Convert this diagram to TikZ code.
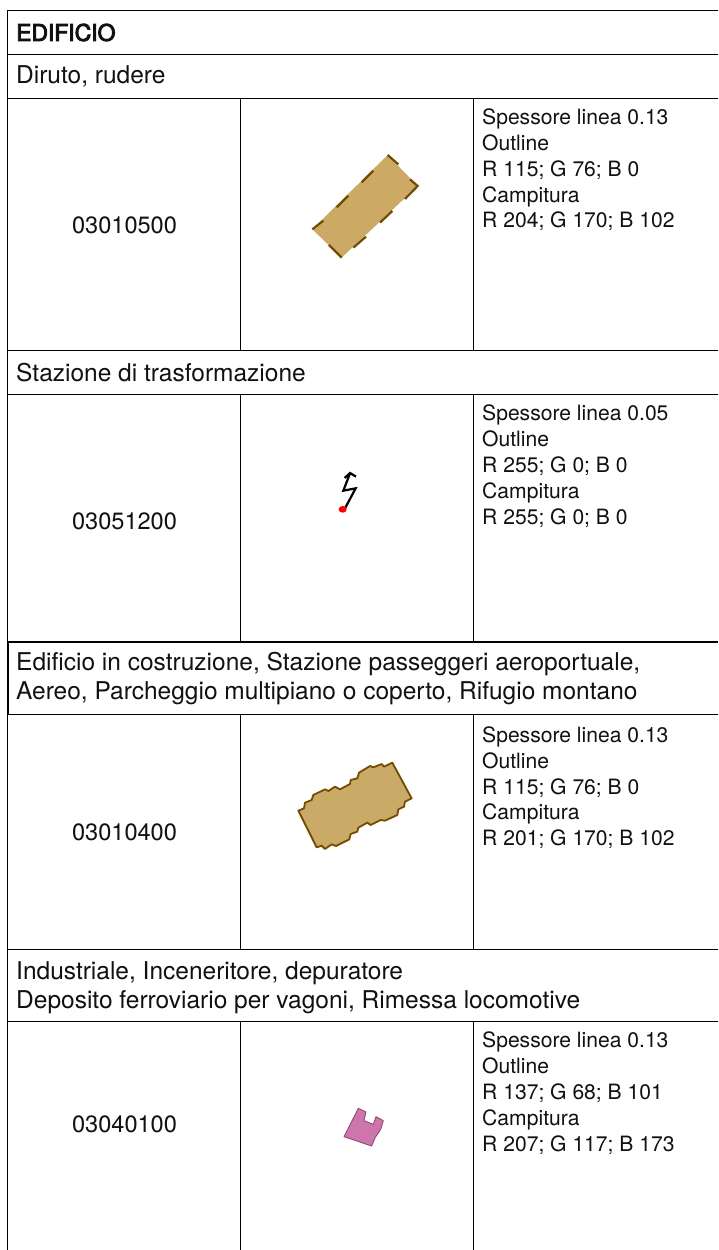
\documentclass[tikz,border=0pt]{standalone}
\usepackage{fontspec}
\setmainfont{TeX Gyre Heros}
\newfontfamily\fakebold[FakeBold=4]{TeX Gyre Heros}
\definecolor{ink}{HTML}{111111}
\definecolor{brownA}{RGB}{115,76,0}
\definecolor{fillA}{RGB}{204,170,102}
\definecolor{fillB}{RGB}{201,170,102}
\definecolor{lineC}{RGB}{137,68,101}
\definecolor{fillC}{RGB}{207,117,173}
\tikzset{
 rule/.style={draw=black,line width=1.1pt},
 thick rule/.style={draw=black,line width=1.9pt},
 head/.style={anchor=west,inner sep=0pt,font=\fontsize{24.5}{29}\selectfont,text=ink,align=left},
 code/.style={anchor=center,inner sep=0pt,font=\fontsize{23.6}{28}\selectfont,text=ink},
 spec/.style={anchor=north west,inner sep=0pt,font=\fontsize{21.1}{25.8}\selectfont,text=ink,align=left},
}
\begin{document}
\begin{tikzpicture}[x=1pt,y=-1pt]
\useasboundingbox (0,0) rectangle (718,1250);
\fill[white] (0,0) rectangle (718,1250);
% table rules
\draw[rule] (7.5,1250) -- (7.5,10.5) -- (718,10.5);
\draw[rule] (7.5,54.5) -- (718,54.5);
\draw[rule] (7.5,98.5) -- (718,98.5);
\draw[rule] (7.5,350.5) -- (718,350.5);
\draw[rule] (7.5,394.5) -- (718,394.5);
\draw[thick rule] (7.5,642) -- (718,642);
\draw[thick rule] (7.5,714.5) -- (718,714.5);
\draw[thick rule] (8,642) -- (8,714.5);
\draw[rule] (7.5,949.5) -- (718,949.5);
\draw[rule] (7.5,1021.3) -- (718,1021.3);
\foreach \a/\b in {98.5/350.5,394.5/642,714.5/949.5,1021.3/1250}{
 \draw[rule] (240.5,\a) -- (240.5,\b);
 \draw[rule] (473.5,\a) -- (473.5,\b);
}
% headings
\node[head,font=\fontsize{22.9}{27}\selectfont\fakebold] (title) at (16,32.5) {EDIFICIO};
\node[head] (h1) at (16,76.5) {Diruto, rudere};
\node[head] (h2) at (16,373) {Stazione di trasformazione};
\node[head] (h3) at (16,679) {Edificio in costruzione, Stazione passeggeri aeroportuale,\\Aereo, Parcheggio multipiano o coperto, Rifugio montano};
\node[head] (h4) at (16,987.5) {Industriale, Inceneritore, depuratore\\Deposito ferroviario per vagoni, Rimessa locomotive};
% codes
\node[code] (c1) at (124.5,225) {03010500};
\node[code] (c2) at (124.5,521) {03051200};
\node[code] (c3) at (124.5,832.5) {03010400};
\node[code] (c4) at (124.5,1124) {03040100};
% specs
\node[spec] (s1) at (482,108.8) {Spessore linea 0.13\\Outline\\R 115; G 76; B 0\\Campitura\\R 204; G 170; B 102};
\node[spec] (s2) at (482,405) {Spessore linea 0.05\\Outline\\R 255; G 0; B 0\\Campitura\\R 255; G 0; B 0};
\node[spec] (s3) at (482,726.5) {Spessore linea 0.13\\Outline\\R 115; G 76; B 0\\Campitura\\R 201; G 170; B 102};
\node[spec] (s4) at (482,1032) {Spessore linea 0.13\\Outline\\R 137; G 68; B 101\\Campitura\\R 207; G 117; B 173};
% symbol 1
\begin{scope}[shift={(280,130)},x=0.3333pt,y=-0.3333pt]
\fill[fillA] (323,75) -- (413,168) -- (185,383) -- (97,298) -- cycle;
\draw[brownA,line width=2.2pt] (323,75) -- (355,103) (390,148) -- (413,168) -- (375,207) (337,243) -- (300,278) (258,320) -- (220,353) (185,383) -- (147,345) (97,298) -- (130,272) (170,232) -- (205,197) (245,157) -- (280,122);
\end{scope}
% symbol 2
\begin{scope}[shift={(320,450)},x=0.3333pt,y=-0.3333pt]
\draw[black,line width=2.2pt,line join=miter] (75,175) -- (107,115) -- (70,122) -- (90,70);
\draw[black,line width=2.2pt] (74,84) -- (90,69) -- (108,80);
\fill[red] (68,178) ellipse (4pt and 3.4pt);
\end{scope}
% symbol 3
\begin{scope}[shift={(280,760)},x=0.3333pt,y=-0.3333pt]
\draw[brownA,fill=fillB,line width=1.8pt,line join=round] (55,152) -- (72,145) -- (75,128) -- (95,120) -- (100,105) -- (135,88) -- (145,93) -- (165,80) -- (180,88) -- (210,72) -- (212,60) -- (232,55) -- (237,38) -- (270,18) -- (280,22) -- (305,12) -- (312,20) -- (337,8) -- (395,115) -- (375,125) -- (372,140) -- (355,148) -- (352,165) -- (315,182) -- (302,180) -- (272,195) -- (262,188) -- (235,203) -- (232,215) -- (212,222) -- (208,238) -- (168,258) -- (155,253) -- (135,267) -- (125,257) -- (110,262) -- cycle;
\end{scope}
% symbol 4
\begin{scope}[shift={(330,1080)},x=0.3333pt,y=-0.3333pt]
\draw[lineC,fill=fillC,line width=0.8pt,line join=round] (85,85) -- (108,96) -- (102,122) -- (130,133) -- (138,110) -- (160,122) -- (152,148) -- (136,172) -- (125,198) -- (42,170) -- cycle;
\end{scope}
\end{tikzpicture}
\end{document}
